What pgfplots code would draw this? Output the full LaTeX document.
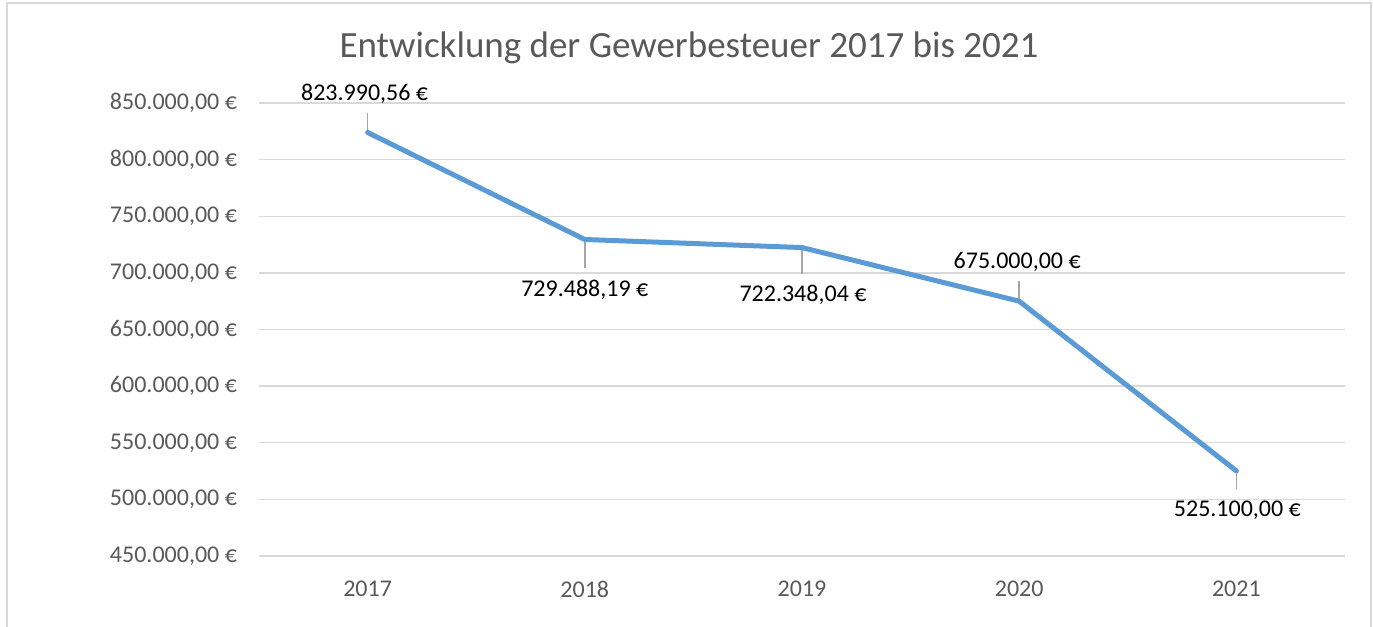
\documentclass[border=0pt]{standalone}
\usepackage{fontspec}
\setmainfont{Carlito}
\usepackage{pgfplots}
\pgfplotsset{compat=1.18}
\usepackage{pgfplotstable}
\definecolor{linecol}{HTML}{5B9BD5}
\definecolor{gridcol}{HTML}{D9D9D9}
\definecolor{txtcol}{HTML}{595959}
\definecolor{leadcol}{HTML}{A6A6A6}

\pgfplotstableread[col sep=semicolon]{
x;y;lab;dx;dy;ep;em
0;823990.56;823.990,56 €;-1.5;19.5;16800;0
1;729488.19;729.488,19 €;0;-25;0;25600
2;722348.04;722.348,04 €;0.5;-23.5;0;23000
3;675000.00;675.000,00 €;-1;19.5;17700;0
4;525100.00;525.100,00 €;0.5;-19.5;0;15900
}\data

\begin{document}
\begin{tikzpicture}
\useasboundingbox (0,0) rectangle (686.5pt,-313.5pt);
\draw[gridcol, line width=0.9pt] (3.5pt,-1.5pt) rectangle (685.5pt,-400pt);
\node[text=txtcol, font=\fontsize{18.5}{22}\selectfont] at (344.5pt,-24pt) {Entwicklung der Gewerbesteuer 2017 bis 2021};
\begin{axis}[
 at={(129.5pt,-51.5pt)}, anchor=north west,
 width=543pt, height=226.5pt, scale only axis,
 xmin=-0.5, xmax=4.5, ymin=450000, ymax=850000,
 scaled y ticks=false,
 xtick={0,1,2,3,4}, xticklabels={2017,2018,2019,2020,2021},
 ytick={450000,500000,550000,600000,650000,700000,750000,800000,850000},
 yticklabels={{450.000,00 €},{500.000,00 €},{550.000,00 €},{600.000,00 €},{650.000,00 €},{700.000,00 €},{750.000,00 €},{800.000,00 €},{850.000,00 €}},
 ymajorgrids, grid style={gridcol, line width=0.75pt},
 axis line style={draw=none},
 major tick length=0pt,
 tick label style={font=\fontsize{12}{14}\selectfont, text=txtcol},
 xticklabel shift=9pt, yticklabel shift=7.5pt,
 clip=false,
]
\addplot[draw=none, forget plot, error bars/.cd, y dir=both, y explicit, error mark=none, error bar style={draw=leadcol, line width=0.75pt}]
 table[x=x, y=y, y error plus=ep, y error minus=em]{\data};
\addplot[linecol, line width=2.5pt, mark=none, line join=round, line cap=round,
 point meta=explicit symbolic, nodes near coords={\pgfplotspointmeta},
 visualization depends on={\thisrow{dx}\as\ddx},
 visualization depends on={\thisrow{dy}\as\ddy},
 every node near coord/.append style={anchor=center, xshift=\ddx pt, yshift=\ddy pt, text=black, font=\fontsize{12}{14}\selectfont}]
 table[x=x, y=y, meta=lab]{\data};
\end{axis}
\end{tikzpicture}
\end{document}
